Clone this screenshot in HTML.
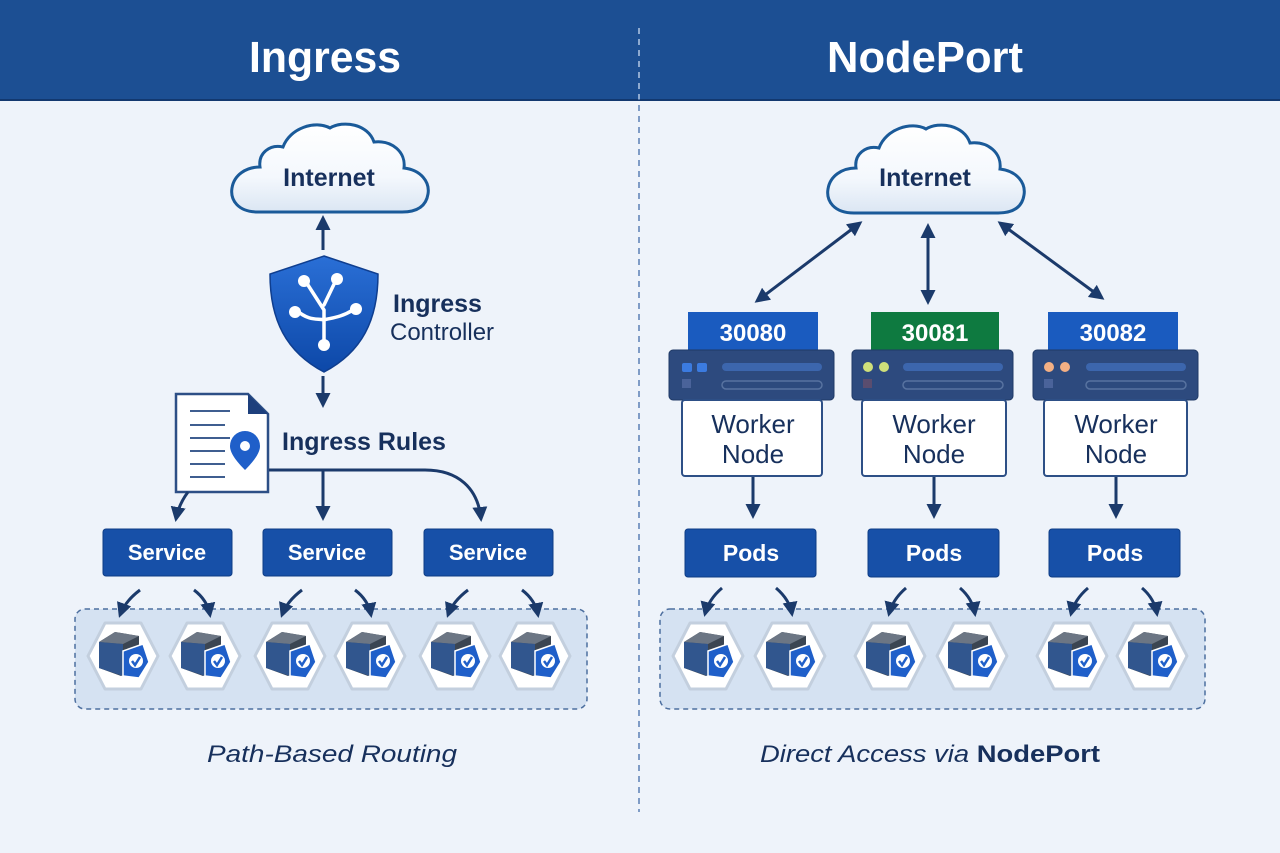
<!DOCTYPE html>
<html><head><meta charset="utf-8"><style>
html,body{margin:0;padding:0;background:#eef3fa;}
svg{display:block;}
text{font-family:"Liberation Sans",sans-serif;}
</style></head><body>
<svg width="1280" height="853" viewBox="0 0 1280 853" xmlns="http://www.w3.org/2000/svg">
<defs>
<marker id="ah" viewBox="0 0 10 10" refX="8" refY="5" markerWidth="5" markerHeight="5" orient="auto-start-reverse"><path d="M0,0 L10,5 L0,10 Z" fill="#1b3a6b"/></marker>
<linearGradient id="cg" x1="0" y1="0" x2="0" y2="1"><stop offset="0" stop-color="#ffffff"/><stop offset="0.6" stop-color="#f4f8fd"/><stop offset="1" stop-color="#dbe6f3"/></linearGradient>
<linearGradient id="sg" x1="0" y1="0" x2="0" y2="1"><stop offset="0" stop-color="#2a6fd6"/><stop offset="1" stop-color="#0d48a8"/></linearGradient>
<g id="cloud">
<path d="M28,92 C8,92 0,80 2,68 C4,55 16,47 30,47 C28,33 40,24 53,27 C60,8 85,0 100,8 C113,0 138,4 144,22 C162,20 176,32 174,48 C191,50 200,62 198,74 C196,87 186,92 172,92 Z" fill="url(#cg)" stroke="#1a5a99" stroke-width="3"/>
</g>
<g id="hex">
<path d="M-35,0 L-18,-33 L18,-33 L35,0 L18,33 L-18,33 Z" fill="#fff" stroke="#c3cfde" stroke-width="3" stroke-linejoin="round"/>
<path d="M-24,-14 L-8,-24 L16,-20 L16,12 L-2,20 L-24,12 Z" fill="#3b4552"/>
<path d="M-24,-14 L-8,-24 L16,-20 L0,-12 Z" fill="#6c7684"/>
<path d="M-24,-14 L0,-12 L0,20 L-24,12 Z" fill="#2d5ea8" opacity="0.7"/>
<path d="M0,-5 L20,-12 L26,6 L16,22 L0,20 Z" fill="#1f5fc9" stroke="#fff" stroke-width="1.5"/>
<circle cx="13" cy="5" r="7" fill="#fff"/>
<path d="M9,5 L12,9 L17,1" fill="none" stroke="#1f5fc9" stroke-width="2.5"/>
</g>
</defs>

<!-- header -->
<rect x="0" y="0" width="1280" height="99" fill="#1c4f93"/>
<rect x="0" y="99" width="1280" height="2" fill="#12386f"/>
<text x="325" y="72" font-size="44" font-weight="bold" fill="#fff" text-anchor="middle" textLength="152" lengthAdjust="spacingAndGlyphs">Ingress</text>
<text x="925" y="72" font-size="44" font-weight="bold" fill="#fff" text-anchor="middle" textLength="196" lengthAdjust="spacingAndGlyphs">NodePort</text>
<line x1="639" y1="28" x2="639" y2="812" stroke="#5a7fb4" stroke-width="1.5" stroke-dasharray="6,5"/>
<line x1="639" y1="28" x2="639" y2="99" stroke="#a9c0e0" stroke-width="1.5" stroke-dasharray="6,5"/>

<!-- LEFT -->
<use href="#cloud" x="230" y="120"/>
<text x="329" y="186" font-size="25" font-weight="bold" fill="#17305c" text-anchor="middle">Internet</text>
<line x1="323" y1="250" x2="323" y2="218" stroke="#1b3a6b" stroke-width="3" marker-end="url(#ah)"/>
<!-- shield -->
<path d="M324,256 L378,274 C378,320 362,352 324,372 C286,352 270,320 270,274 Z" fill="url(#sg)" stroke="#0f3e8f" stroke-width="1.5"/>
<g stroke="#fff" stroke-width="3.5" fill="none" stroke-linecap="round">
<path d="M324,345 L324,310 M324,310 L306,282 M324,305 L336,280 M296,310 C310,322 318,318 324,320 C330,318 340,318 353,310"/>
</g>
<g fill="#fff"><circle cx="304" cy="281" r="6"/><circle cx="337" cy="279" r="6"/><circle cx="295" cy="312" r="6"/><circle cx="356" cy="309" r="6"/><circle cx="324" cy="345" r="6"/></g>
<text x="393" y="312" font-size="25" font-weight="bold" fill="#17305c">Ingress</text>
<text x="390" y="340" font-size="24" fill="#17305c">Controller</text>
<line x1="323" y1="376" x2="323" y2="405" stroke="#1b3a6b" stroke-width="3" marker-end="url(#ah)"/>
<!-- document -->
<path d="M176,394 L248,394 L268,414 L268,492 L176,492 Z" fill="#fff" stroke="#2d4f86" stroke-width="2.5"/>
<path d="M248,394 L268,414 L248,414 Z" fill="#1d3f7c"/>
<g stroke="#3f5e90" stroke-width="2"><line x1="190" y1="411" x2="230" y2="411"/><line x1="190" y1="425" x2="225" y2="425"/><line x1="190" y1="438" x2="230" y2="438"/><line x1="190" y1="451" x2="225" y2="451"/><line x1="190" y1="464" x2="225" y2="464"/><line x1="190" y1="477" x2="225" y2="477"/></g>
<path d="M245,470 C233,458 230,451 230,446 A15,15 0 0 1 260,446 C260,451 257,458 245,470 Z" fill="#1f5fc9"/>
<circle cx="245" cy="446" r="5" fill="#fff"/>
<text x="282" y="450" font-size="25" font-weight="bold" fill="#17305c">Ingress Rules</text>
<path d="M269,470 L425,470 C458,470 478,488 481,519" fill="none" stroke="#1b3a6b" stroke-width="3" marker-end="url(#ah)"/>
<line x1="323" y1="470" x2="323" y2="518" stroke="#1b3a6b" stroke-width="3" marker-end="url(#ah)"/>
<path d="M188,492 C182,500 178,508 176,519" fill="none" stroke="#1b3a6b" stroke-width="3" marker-end="url(#ah)"/>
<g fill="#1750a8" stroke="#0e3d85" stroke-width="1">
<rect x="103" y="529" width="129" height="47" rx="3"/><rect x="263" y="529" width="129" height="47" rx="3"/><rect x="424" y="529" width="129" height="47" rx="3"/></g>
<g font-size="22" font-weight="bold" fill="#fff" text-anchor="middle">
<text x="167" y="560">Service</text><text x="327" y="560">Service</text><text x="488" y="560">Service</text></g>
<rect x="75" y="609" width="512" height="100" rx="10" fill="#d5e2f2" stroke="#4d6f9f" stroke-width="1.5" stroke-dasharray="5,4"/>
<g fill="none" stroke="#1b3a6b" stroke-width="3" marker-end="url(#ah)">
<path d="M140,590 C132,596 124,604 120,615"/><path d="M194,590 C202,596 208,604 210,615"/>
<path d="M302,590 C294,596 286,604 282,615"/><path d="M355,590 C363,596 369,604 371,615"/>
<path d="M468,590 C460,596 452,604 448,615"/><path d="M522,590 C530,596 536,604 538,615"/>
</g>
<use href="#hex" x="123" y="656"/><use href="#hex" x="205" y="656"/><use href="#hex" x="290" y="656"/><use href="#hex" x="370" y="656"/><use href="#hex" x="455" y="656"/><use href="#hex" x="535" y="656"/>
<text x="332" y="762" font-size="24" font-style="italic" fill="#17305c" text-anchor="middle" textLength="250" lengthAdjust="spacingAndGlyphs">Path-Based Routing</text>

<!-- RIGHT -->
<use href="#cloud" x="826" y="121"/>
<text x="925" y="186" font-size="25" font-weight="bold" fill="#17305c" text-anchor="middle">Internet</text>
<g stroke="#1b3a6b" stroke-width="3" marker-end="url(#ah)" marker-start="url(#ah)">
<line x1="860" y1="223" x2="757" y2="301"/>
<line x1="928" y1="226" x2="928" y2="302"/>
<line x1="1000" y1="223" x2="1102" y2="298"/>
</g>
<!-- nodes -->
<g>
<rect x="688" y="312" width="130" height="40" fill="#1a5bbf"/>
<rect x="871" y="312" width="128" height="40" fill="#0e7a40"/>
<rect x="1048" y="312" width="130" height="40" fill="#1a5bbf"/>
<g font-size="24" font-weight="bold" fill="#fff" text-anchor="middle">
<text x="753" y="341">30080</text><text x="935" y="341">30081</text><text x="1113" y="341">30082</text></g>
</g>
<g id="srv">
</g>
<!-- server bars -->
<g>
<rect x="669" y="350" width="165" height="50" rx="4" fill="#2d4a7e" stroke="#203a66"/>
<rect x="852" y="350" width="161" height="50" rx="4" fill="#2d4a7e" stroke="#203a66"/>
<rect x="1033" y="350" width="165" height="50" rx="4" fill="#2d4a7e" stroke="#203a66"/>
<rect x="682" y="363" width="10" height="9" rx="2" fill="#3b7be0"/><rect x="697" y="363" width="10" height="9" rx="2" fill="#3b7be0"/><rect x="682" y="379" width="9" height="9" fill="#4a639a"/>
<circle cx="868" cy="367" r="5" fill="#cfe07a"/><circle cx="884" cy="367" r="5" fill="#cfe07a"/><rect x="863" y="379" width="9" height="9" fill="#5a4d6f"/>
<circle cx="1049" cy="367" r="5" fill="#f4b084"/><circle cx="1065" cy="367" r="5" fill="#f4b084"/><rect x="1044" y="379" width="9" height="9" fill="#4a639a"/>
<g fill="#3c66ad"><rect x="722" y="363" width="100" height="8" rx="4"/><rect x="903" y="363" width="100" height="8" rx="4"/><rect x="1086" y="363" width="100" height="8" rx="4"/></g>
<g fill="none" stroke="#5873a0" stroke-width="1.5"><rect x="722" y="381" width="100" height="8" rx="4"/><rect x="903" y="381" width="100" height="8" rx="4"/><rect x="1086" y="381" width="100" height="8" rx="4"/></g>
</g>
<g fill="#fff" stroke="#2d4f86" stroke-width="2">
<rect x="682" y="400" width="140" height="76" rx="3"/><rect x="862" y="400" width="144" height="76" rx="3"/><rect x="1044" y="400" width="143" height="76" rx="3"/></g>
<g font-size="26" fill="#17305c" text-anchor="middle">
<text x="753" y="433">Worker</text><text x="753" y="463">Node</text>
<text x="934" y="433">Worker</text><text x="934" y="463">Node</text>
<text x="1116" y="433">Worker</text><text x="1116" y="463">Node</text></g>
<g stroke="#1b3a6b" stroke-width="3" marker-end="url(#ah)">
<line x1="753" y1="477" x2="753" y2="516"/><line x1="934" y1="477" x2="934" y2="516"/><line x1="1116" y1="477" x2="1116" y2="516"/></g>
<g fill="#1750a8" stroke="#0e3d85" stroke-width="1">
<rect x="685" y="529" width="131" height="48" rx="3"/><rect x="868" y="529" width="131" height="48" rx="3"/><rect x="1049" y="529" width="131" height="48" rx="3"/></g>
<g font-size="23" font-weight="bold" fill="#fff" text-anchor="middle">
<text x="751" y="561">Pods</text><text x="934" y="561">Pods</text><text x="1115" y="561">Pods</text></g>
<rect x="660" y="609" width="545" height="100" rx="10" fill="#d5e2f2" stroke="#4d6f9f" stroke-width="1.5" stroke-dasharray="5,4"/>
<g fill="none" stroke="#1b3a6b" stroke-width="3" marker-end="url(#ah)">
<path d="M722,588 C715,594 708,602 705,614"/><path d="M776,588 C783,594 790,602 792,614"/>
<path d="M906,588 C899,594 892,602 889,614"/><path d="M960,588 C967,594 973,602 975,614"/>
<path d="M1088,588 C1081,594 1074,602 1071,614"/><path d="M1142,588 C1149,594 1155,602 1157,614"/>
</g>
<use href="#hex" x="708" y="656"/><use href="#hex" x="790" y="656"/><use href="#hex" x="890" y="656"/><use href="#hex" x="972" y="656"/><use href="#hex" x="1072" y="656"/><use href="#hex" x="1152" y="656"/>
<text x="760" y="762" font-size="24" fill="#17305c" textLength="340" lengthAdjust="spacingAndGlyphs"><tspan font-style="italic">Direct Access via </tspan><tspan font-weight="bold">NodePort</tspan></text>
</svg>
</body></html>
